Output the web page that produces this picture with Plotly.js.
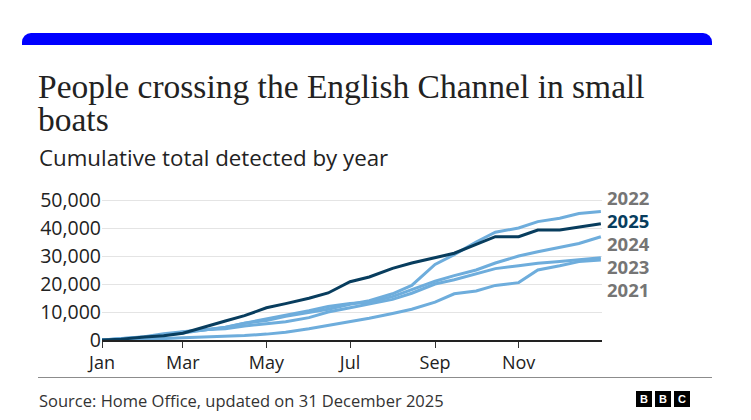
<!DOCTYPE html>
<html>
<head>
<meta charset="utf-8">
<script src="https://cdn.plot.ly/plotly-3.0.1.min.js"></script>
<style>
  html, body { margin: 0; padding: 0; background: #fff; }
  #wrap { position: relative; width: 751px; height: 420px; overflow: hidden; }
  #chart { position: absolute; left: 0; top: 0; width: 751px; height: 420px; }
  #bar { position: absolute; left: 22px; top: 33px; width: 690px; height: 12px; background: #0000ff; border-radius: 9px 9px 0 0; }
  #title { position: absolute; left: 38px; top: 70px; width: 640px; margin: 0;
           font-family: "Liberation Serif", "DejaVu Serif", serif; font-weight: normal;
           font-size: 33.5px; line-height: 33px; color: #222; }
  #rule { position: absolute; left: 38px; top: 377px; width: 674px; height: 1px; background: #8c8c8c; }
  #logo { position: absolute; left: 636px; top: 391px; display: flex; gap: 3px; }
  #logo span { display: block; width: 16px; height: 16px; background: #000; color: #fff; font: bold 11px "Liberation Sans", Arial, sans-serif; line-height: 16px; text-align: center; }
</style>
</head>
<body>
<div id="wrap">
  <div id="chart"></div>
  <div id="bar"></div>
  <h1 id="title">People crossing the English Channel in small boats</h1>
  <div id="rule"></div>
  <div id="logo"><span>B</span><span>B</span><span>C</span></div>
</div>
<script>
// ---- data ----
const dates = ['2025-01-01','2025-01-15','2025-02-01','2025-02-15','2025-03-01','2025-03-15',
  '2025-04-01','2025-04-15','2025-05-01','2025-05-15','2025-06-01','2025-06-15','2025-07-01',
  '2025-07-15','2025-08-01','2025-08-15','2025-09-01','2025-09-15','2025-10-01','2025-10-15',
  '2025-11-01','2025-11-15','2025-12-01','2025-12-15','2025-12-31'];
const y2021 = [0,100,300,500,800,1000,1200,1600,2100,2800,4000,5200,6500,7800,9500,11000,13500,16500,17500,19500,20500,25000,26500,28000,28600];
const y2022 = [0,400,1100,1800,2500,3500,4500,6000,7000,8500,10000,11000,12800,14000,16500,19500,27000,30500,35000,38500,40000,42300,43500,45200,45900];
const y2023 = [0,500,1200,2200,3000,3700,4000,5000,5800,6500,8000,10000,11500,12800,14500,16700,20000,21500,23500,25500,26500,27400,28000,28700,29400];
const y2024 = [0,300,800,1800,2900,3500,4600,6000,7500,9000,10500,12000,13000,13500,15500,18000,21000,23000,25000,27500,30000,31500,33000,34500,36900];
const y2025 = [0,300,1100,1500,2400,4500,6800,8700,11500,13000,14900,16800,20800,22500,25600,27500,29500,31000,34200,36900,36900,39300,39300,40300,41500];
const years = ['2021','2023','2024','2022','2025'];
const yTicks = [0,10000,20000,30000,40000,50000];
const yTickText = ['0','10,000','20,000','30,000','40,000','50,000'];
const labelOrder = ['2022','2025','2024','2023','2021'];

const series = {'2021': y2021, '2022': y2022, '2023': y2023, '2024': y2024, '2025': y2025};
const LIGHT = '#6eaddc';
const DARK = '#083d5e';
const GREY = '#757575';

// ---- geometry ----
const W = 751, H = 420;
const M = {l: 102, r: 149, t: 195, b: 80};
const PW = W - M.l - M.r, PH = H - M.t - M.b;
const px = x => (x - M.l) / PW;           // pixel -> paper x
const py = y => (H - M.b - y) / PH;       // pixel -> paper y

const traces = years.map(yr => ({
  x: dates, y: series[yr], type: 'scatter', mode: 'lines',
  line: {color: yr === '2025' ? DARK : LIGHT, width: 3},
  hoverinfo: 'skip', showlegend: false
}));

const sans = '"Open Sans", "Noto Sans", sans-serif';
const annotations = [
  {text: 'Cumulative total detected by year', x: px(37), y: py(157),
   xanchor: 'left', yanchor: 'middle', align: 'left',
   font: {family: sans, size: 22.3, color: '#222'}},
  {text: 'Source: Home Office, updated on 31 December 2025', x: px(37), y: py(400),
   xanchor: 'left', yanchor: 'middle', align: 'left',
   font: {family: sans, size: 16.5, color: '#333'}}
];
const labelY = [197, 220, 243, 266, 289];
labelOrder.forEach((yr, i) => {
  annotations.push({text: '<b>' + yr + '</b>', x: px(605), y: py(labelY[i]),
    xanchor: 'left', yanchor: 'middle', height: 20, valign: 'middle',
    font: {family: sans, size: 18.5, color: yr === '2025' ? DARK : GREY}});
});
annotations.forEach(a => { a.xref = 'paper'; a.yref = 'paper'; a.showarrow = false; });

const layout = {
  width: W, height: H, margin: M,
  paper_bgcolor: '#fff', plot_bgcolor: '#fff',
  xaxis: {
    type: 'date', range: ['2025-01-01', '2025-12-31 20:00'],
    tick0: '2025-01-01', dtick: 'M2', tickformat: '%b',
    ticks: 'outside', ticklen: 6, tickwidth: 1, tickcolor: '#333',
    showline: true, linecolor: '#222', linewidth: 1.5,
    showgrid: false, zeroline: false,
    tickfont: {family: sans, size: 18, color: '#222'}
  },
  yaxis: {
    range: [0, 51800], tickvals: yTicks, ticktext: yTickText,
    showgrid: true, gridcolor: '#e4e4e4', gridwidth: 1,
    zeroline: false, showline: false, ticks: '',
    ticklabelstandoff: 0,
    tickfont: {family: sans, size: 19.5, color: '#222'}
  },
  annotations: annotations
};

Plotly.newPlot('chart', traces, layout, {staticPlot: true, displayModeBar: false});
</script>
</body>
</html>
